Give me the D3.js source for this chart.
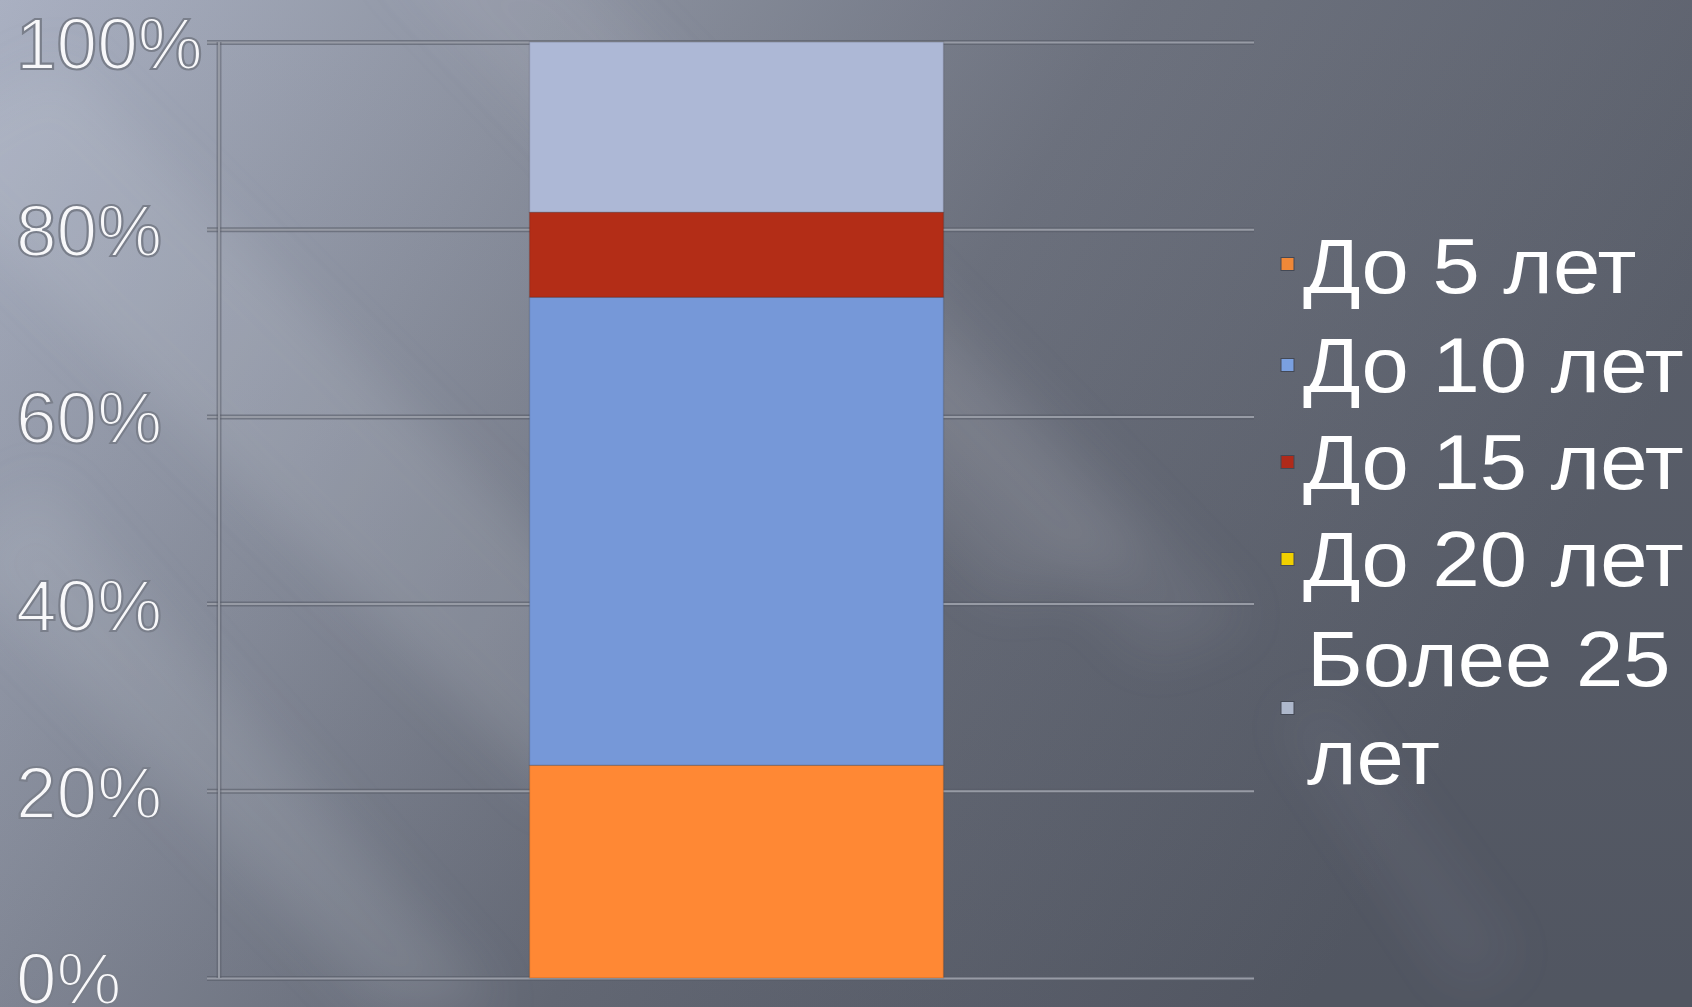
<!DOCTYPE html>
<html>
<head>
<meta charset="utf-8">
<script src="https://cdn.jsdelivr.net/npm/d3@7"></script>
<style>
  html, body { margin: 0; padding: 0; background: #5a606c; }
  svg { display: block; }
</style>
</head>
<body>
<svg id="chart" width="1692" height="1007"></svg>
<script>
// Work experience groups (single stacked 100% column)
const categories = ["Стаж"];
const seriesNames = ["До 5 лет", "До 10 лет", "До 15 лет", "До 20 лет", "Более 25 лет"];
const seriesValues = [5, 11, 2, 0, 4];
const seriesColors = ["#ff8834", "#7698d8", "#b32d17", "#f0d020", "#adb8d6"];
const legendMarkerColors = ["#f08838", "#7aa0e0", "#b02a1a", "#f0d000", "#aeb8cc"];
const legendLines = [["До 5 лет"], ["До 10 лет"], ["До 15 лет"], ["До 20 лет"], ["Более 25", "лет"]];
const tickValues = [0, 0.2, 0.4, 0.6, 0.8, 1.0];

const W = 1692, H = 1007;
const svg = d3.select("#chart");
const defs = svg.append("defs");

// Slide background: grey gradient with soft diagonal light streaks
const bg = defs.append("linearGradient").attr("id", "bg")
  .attr("x1", "0").attr("y1", "0").attr("x2", "1").attr("y2", "0.35");
bg.append("stop").attr("offset", "0").attr("stop-color", "#a6adbf");
bg.append("stop").attr("offset", "0.3").attr("stop-color", "#878d9c");
bg.append("stop").attr("offset", "0.6").attr("stop-color", "#676c79");
bg.append("stop").attr("offset", "1").attr("stop-color", "#555a66");
svg.append("rect").attr("width", W).attr("height", H).attr("fill", "url(#bg)");

const vshade = defs.append("linearGradient").attr("id", "vshade")
  .attr("x1", "0").attr("y1", "0").attr("x2", "0").attr("y2", "1");
vshade.append("stop").attr("offset", "0").attr("stop-color", "#ffffff").attr("stop-opacity", 0.04);
vshade.append("stop").attr("offset", "1").attr("stop-color", "#000000").attr("stop-opacity", 0.05);
svg.append("rect").attr("width", W).attr("height", H).attr("fill", "url(#vshade)");

defs.append("filter").attr("id", "soft").attr("x", "-50%").attr("y", "-50%").attr("width", "200%").attr("height", "200%")
  .append("feGaussianBlur").attr("stdDeviation", 26);

const streaks = svg.append("g").attr("filter", "url(#soft)");
const streakData = [
  {pts: [[-100, 150], [60, 60], [700, 700], [560, 800]], o: 0.16},
  {pts: [[-50, 560], [40, 480], [500, 1007], [380, 1007]], o: 0.14},
  {pts: [[380, -50], [560, -50], [1150, 560], [1000, 600]], o: 0.10},
  {pts: [[800, 300], [900, 260], [1250, 620], [1150, 660]], o: 0.08},
  {pts: [[1280, 720], [1330, 700], [1520, 960], [1460, 990]], o: 0.05}
];
streaks.selectAll("polygon").data(streakData).join("polygon")
  .attr("points", d => d.pts.map(p => p.join(",")).join(" "))
  .attr("fill", "#d6dbe6").attr("opacity", d => d.o);

// Plot geometry
const plotLeft = 219, plotRight = 1254, plotTop = 42, plotBottom = 978;

const y = d3.scaleLinear().domain([0, 1]).range([plotBottom, plotTop]);
const x = d3.scaleBand().domain(categories).range([plotLeft, plotRight]).paddingInner(0.6).paddingOuter(0.3);

// Gridlines drawn with an axis generator
const grid = svg.append("g").attr("transform", `translate(${plotLeft},0)`)
  .call(d3.axisLeft(y).tickValues(tickValues).tickSize(-(plotRight - plotLeft)).tickFormat(""));
grid.select(".domain").remove();
grid.selectAll(".tick line")
  .attr("x1", -12)
  .attr("stroke", "#575c67").attr("stroke-width", 5).attr("stroke-opacity", 0.6);
grid.selectAll(".tick").append("line")
  .attr("x1", -12).attr("x2", plotRight - plotLeft)
  .attr("stroke", "#979ba5").attr("stroke-width", 2);

// Vertical value axis line
svg.append("line").attr("x1", plotLeft).attr("x2", plotLeft)
  .attr("y1", plotTop).attr("y2", plotBottom)
  .attr("stroke", "#575c67").attr("stroke-width", 5).attr("stroke-opacity", 0.5);
svg.append("line").attr("x1", plotLeft).attr("x2", plotLeft)
  .attr("y1", plotTop).attr("y2", plotBottom)
  .attr("stroke", "#979ba5").attr("stroke-width", 2);

// Stacked 100% column
const row = {cat: categories[0]};
seriesNames.forEach((n, i) => row[n] = seriesValues[i]);
const stack = d3.stack().keys(seriesNames).offset(d3.stackOffsetExpand);
const layers = stack([row]);

svg.append("g").selectAll("g").data(layers).join("g")
  .attr("fill", (d, i) => seriesColors[i])
  .selectAll("rect").data(d => d).join("rect")
  .attr("x", d => x(d.data.cat))
  .attr("width", x.bandwidth())
  .attr("y", d => y(d[1]))
  .attr("height", d => Math.max(0, y(d[0]) - y(d[1])))
  .attr("stroke", "#000").attr("stroke-opacity", 0.12).attr("stroke-width", 1.5);

// Axis labels (left-aligned at the slide edge), white with a grey outline
const fmt = d3.format(".0%");
svg.append("g").selectAll("text").data(tickValues).join("text")
  .attr("x", 16)
  .attr("y", d => Math.min(y(d) + 27, 1004))
  .attr("font-family", "'Liberation Sans', Arial, sans-serif")
  .attr("font-size", 73)
  .attr("fill", "#f8f8fa")
  .attr("stroke", "#7a7f8b").attr("stroke-width", 2.2)
  .text(d => fmt(d));

// Legend
const legendX = 1281, legendTextX = 1303;
const legendBaselines = [[293], [392], [489], [586], [686, 784]];
const markerCenters = [264, 365, 462, 559, 708];
const lg = svg.append("g");
seriesNames.forEach((n, i) => {
  lg.append("rect")
    .attr("x", legendX).attr("y", markerCenters[i] - 6.5)
    .attr("width", 13).attr("height", 13)
    .attr("fill", legendMarkerColors[i])
    .attr("stroke", "#444955").attr("stroke-width", 1);
  legendLines[i].forEach((t, j) => {
    const tx = legendTextX + (i === 4 ? 4 : 0);
    lg.append("text")
      .attr("transform", `translate(${tx},${legendBaselines[i][j]}) scale(1.09,1)`)
      .attr("font-family", "'Liberation Sans', Arial, sans-serif")
      .attr("font-size", 78)
      .attr("fill", "#ffffff")
      .text(t);
  });
});
</script>
</body>
</html>
